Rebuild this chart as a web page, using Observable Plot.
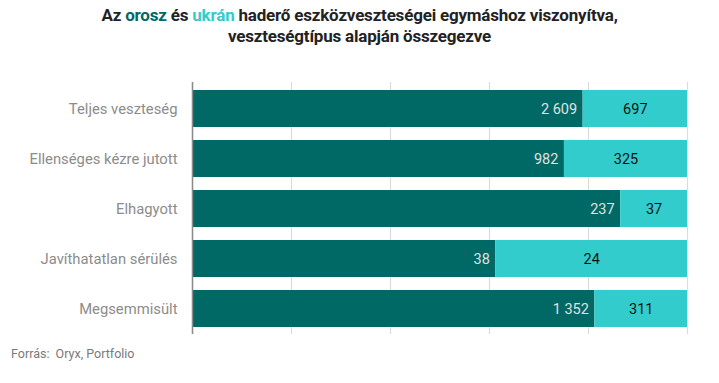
<!DOCTYPE html>
<html>
<head>
<meta charset="utf-8">
<script src="https://cdn.jsdelivr.net/npm/d3@7"></script>
<script src="https://cdn.jsdelivr.net/npm/@observablehq/plot@0.6"></script>
<style>
  html, body { margin: 0; padding: 0; background: #fff; }
  body { width: 719px; height: 383px; overflow: hidden; font-family: Roboto, sans-serif; }
  #title { height: 60px; padding-top: 5px; box-sizing: border-box; text-align: center; font-weight: 700; font-size: 17px; line-height: 21px; color: #222; letter-spacing: -0.2px; }
  #title .ru { color: #006865; }
  #title .ua { color: #33cccc; }
  #footer { margin-top: 1px; padding-left: 11px; font-size: 12.5px; line-height: 15px; color: #7a7a7a; }
  #chart { height: 285px; }
</style>
</head>
<body>
<div id="title">Az <span class="ru">orosz</span> és <span class="ua">ukrán</span> haderő eszközveszteségei egymáshoz viszonyítva,<br>veszteségtípus alapján összegezve</div>
<div id="chart"></div>
<div id="footer">Forrás:&nbsp; Oryx, Portfolio</div>
<script>
const categories = ["Teljes veszteség", "Ellenséges kézre jutott", "Elhagyott", "Javíthatatlan sérülés", "Megsemmisült"];
const orosz = [2609, 982, 237, 38, 1352];
const ukran = [697, 325, 37, 24, 311];
const xTicks = [0, 0.2, 0.4, 0.6, 0.8, 1];

const fmt = d3.formatLocale({decimal: ",", thousands: "\u00a0", grouping: [3], currency: ["", ""]}).format(",d");

const rows = [];
categories.forEach((c, i) => {
  rows.push({cat: c, side: "orosz", value: orosz[i]});
  rows.push({cat: c, side: "ukrán", value: ukran[i]});
});
const labels = categories.map((c, i) => {
  const tot = orosz[i] + ukran[i];
  const s = orosz[i] / tot;
  return {cat: c, r: orosz[i], u: ukran[i], share: s, mid: (s + 1) / 2};
});

const chart = Plot.plot({
  width: 719,
  height: 285,
  marginLeft: 192,
  marginRight: 32,
  marginTop: 22,
  marginBottom: 11,
  style: {fontFamily: "Roboto, sans-serif", background: "#fff"},
  x: {domain: [0, 1], axis: null},
  y: {domain: categories, paddingInner: 0.27, paddingOuter: 0.14, label: null},
  color: {domain: ["orosz", "ukrán"], range: ["#006865", "#33cccc"]},
  marks: [
    Plot.gridX(xTicks, {stroke: "#dcdcdc", strokeOpacity: 1, strokeWidth: 1.2}),
    Plot.barX(rows, Plot.stackX({x: "value", y: "cat", fill: "side", offset: "normalize", order: null})),
    Plot.ruleX([0], {stroke: "#8a8a8a", strokeWidth: 1.5}),
    Plot.axisY({tickSize: 0, tickPadding: 15, fontSize: 14.8, color: "#8c8c8c", label: null}),
    Plot.text(labels, {x: "share", y: "cat", text: d => fmt(d.r), textAnchor: "end", dx: -6, fill: "#e0e0e0", fontSize: 14.5}),
    Plot.text(labels, {x: "mid", y: "cat", text: d => fmt(d.u), textAnchor: "middle", fill: "#111", fontSize: 14.5})
  ]
});
document.getElementById("chart").appendChild(chart);
</script>
</body>
</html>
